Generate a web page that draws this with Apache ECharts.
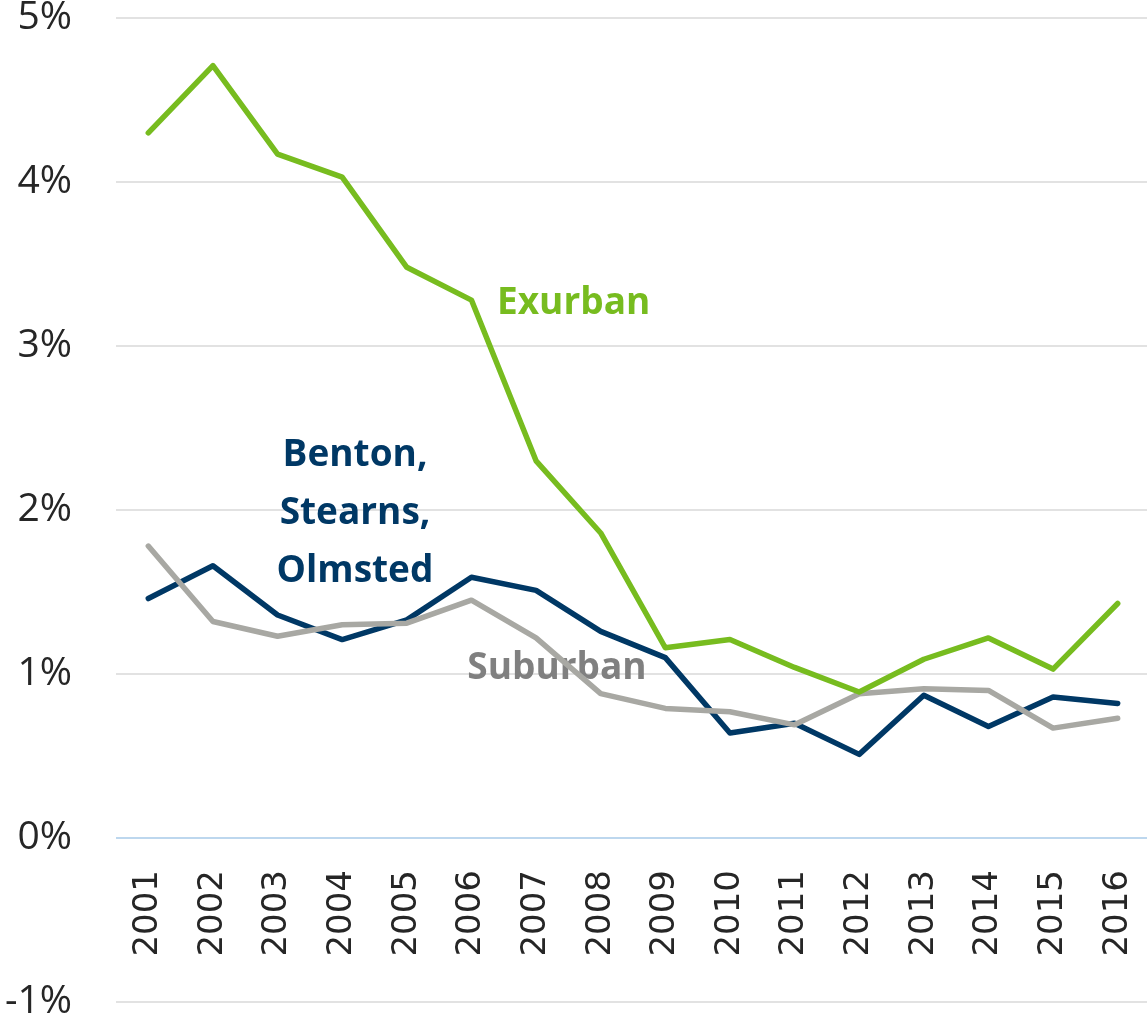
<!DOCTYPE html>
<html>
<head>
<meta charset="utf-8">
<script src="https://cdn.jsdelivr.net/npm/echarts@6/dist/echarts.min.js"></script>
<style>
  html, body { margin: 0; padding: 0; background: #fff; }
  #main { width: 1147px; height: 1020px; }
</style>
</head>
<body>
<div id="main"></div>
<script>
// 年份
const years = ['2001', '2002', '2003', '2004', '2005', '2006', '2007', '2008',
  '2009', '2010', '2011', '2012', '2013', '2014', '2015', '2016'];

// 各区域增长率 (%)
const exurban = [4.30, 4.71, 4.17, 4.03, 3.48, 3.28, 2.30, 1.86,
  1.16, 1.21, 1.04, 0.89, 1.09, 1.22, 1.03, 1.43];
const bentonStearnsOlmsted = [1.46, 1.66, 1.36, 1.21, 1.33, 1.59, 1.51, 1.26,
  1.10, 0.64, 0.70, 0.51, 0.87, 0.68, 0.86, 0.82];
const suburban = [1.78, 1.32, 1.23, 1.30, 1.31, 1.45, 1.22, 0.88,
  0.79, 0.77, 0.69, 0.88, 0.91, 0.90, 0.67, 0.73];

const GREEN = '#77bc1f';
const NAVY = '#003865';
const GREY = '#a8a8a3';

const myChart = echarts.init(document.getElementById('main'));

// 统一的线条样式
function lineSeries(name, data, color) {
  return {
    name: name,
    type: 'line',
    data: data,
    symbol: 'none',
    smooth: false,
    lineStyle: { color: color, width: 5.5, cap: 'round', join: 'round' },
    z: 3
  };
}

const labelFont = {
  fontFamily: 'Open Sans',
  fontWeight: 'bold',
  fontSize: 37
};

const series = [
  lineSeries('Benton, Stearns, Olmsted', bentonStearnsOlmsted, NAVY),
  lineSeries('Suburban', suburban, GREY),
  lineSeries('Exurban', exurban, GREEN)
];
// 0%线：浅蓝色
series[0].markLine = {
  silent: true,
  symbol: 'none',
  label: { show: false },
  lineStyle: { color: '#bdd7ee', width: 2, type: 'solid' },
  data: [{ yAxis: 0 }],
  z: 1
};

myChart.setOption({
  animation: false,
  grid: {
    left: 116, top: 18, width: 1034, height: 984,
    containLabel: false, outerBoundsMode: 'none'
  },
  xAxis: {
    type: 'category',
    data: years,
    boundaryGap: true,
    axisLine: { show: false, onZero: false },
    axisTick: { show: false },
    axisLabel: {
      // 标签放在0%线下方（网格底部向上偏移）
      rotate: 90,
      margin: -132,
      fontFamily: 'DejaVu Sans',
      fontSize: 34,
      color: '#262626'
    }
  },
  yAxis: {
    type: 'value',
    min: -1,
    max: 5,
    interval: 1,
    axisLine: { show: false },
    axisTick: { show: false },
    splitLine: { lineStyle: { color: '#d9d9d9', width: 1.5 } },
    axisLabel: {
      formatter: '{value}%',
      margin: 44,
      fontFamily: 'Open Sans',
      fontSize: 39,
      color: '#262626'
    }
  },
  series: series,
  graphic: [
    {
      type: 'text', z: 1, x: 497, y: 303,
      style: Object.assign({ text: 'Exurban', fill: GREEN, align: 'left', verticalAlign: 'middle' }, labelFont)
    },
    {
      type: 'text', z: 1, x: 355, y: 513,
      style: Object.assign({
        text: 'Benton,\nStearns,\nOlmsted', fill: NAVY, align: 'center',
        verticalAlign: 'middle', lineHeight: 58
      }, labelFont)
    },
    {
      type: 'text', z: 1, x: 557, y: 668,
      style: Object.assign({ text: 'Suburban', fill: '#808080', align: 'center', verticalAlign: 'middle' }, labelFont)
    }
  ]
});
</script>
</body>
</html>
